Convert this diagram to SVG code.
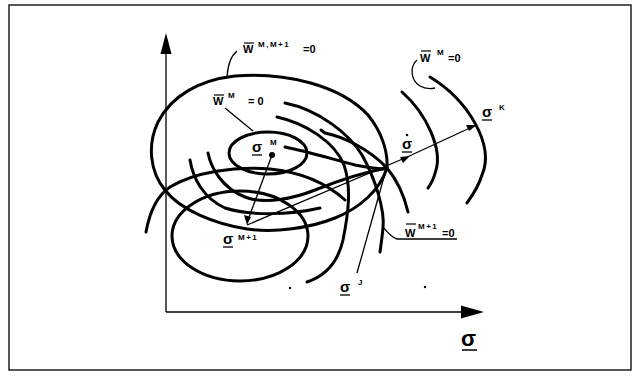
<svg xmlns="http://www.w3.org/2000/svg" width="640" height="376" viewBox="0 0 640 376">
<style>
.thick{fill:none;stroke:#000;stroke-width:3;stroke-linecap:round}
.thin{fill:none;stroke:#000;stroke-width:1.3}
.lbl{font-family:"Liberation Sans",Arial,sans-serif;font-weight:bold;fill:#000}
.sup{font-size:8px;letter-spacing:1.5px}
.big{font-size:11px}
</style>
<rect width="640" height="376" fill="#fff"/>
<rect x="9" y="5" width="622" height="365" fill="none" stroke="#222" stroke-width="1.5"/>
<g id="axes">
<line class="thin" x1="166" y1="53" x2="166" y2="312"/>
<polygon points="166,33 160.5,54 171.5,54" fill="#000"/>
<line class="thin" x1="166" y1="312" x2="462" y2="312"/>
<polygon points="484,312 461,305.5 461,318.5" fill="#000"/>
</g>
<g id="egg">
<path class="thick" d="M247,229 C215,224 180,210 165,190 C150,172 147,145 158,122 C172,95 200,80 235,76 C285,72 340,85 368,115 C382,132 388,152 387,168 C380,190 360,208 335,218 C310,228 275,233 247,229 Z"/>
</g>
<g id="small-ellipse"><ellipse class="thick" cx="268" cy="153" rx="39" ry="21"/></g>
<g id="bottom-ellipse"><ellipse class="thick" cx="240" cy="236" rx="68" ry="45"/></g>
<g id="arcs">
<path class="thick" d="M285,103 C320,110 350,135 362,155 C375,178 385,210 383,228 C382,238 381,245 380,252"/>
<path class="thick" d="M277,117 C305,123 335,142 344,165 C352,188 348,215 343,240 C338,262 325,276 307,282"/>
<path class="thick" d="M321,130 L325,133 C345,137 370,150 387,168 C397,180 404,195 408,212"/>
<path class="thick" d="M285,147 C310,152 335,160 355,165 C370,168 380,169 387,169"/>
<path class="thick" d="M146,232 C150,210 158,195 170,187 C195,172 235,166 270,169 C300,172 325,182 345,200"/>
<path class="thick" d="M208,153 C211,168 222,188 245,197 C265,205 295,198 315,190 C340,180 365,172 387,168"/>
<path class="thick" d="M190,160 C193,178 203,198 225,208 C250,216 290,215 320,208"/>
<path class="thick" d="M430,77 C468,100 495,145 482,175 C478,188 472,196 467,203"/>
<path class="thick" d="M402,92 C428,115 442,150 436,170 C434,178 431,184 428,188"/>
</g>
<g id="connectors">
<line class="thin" x1="272" y1="155" x2="248" y2="220"/>
<polygon points="247,225 244,215 251,217" fill="#000"/>
<line class="thin" x1="247" y1="225" x2="405" y2="158"/>
<polygon points="410,156 400,157 403,163" fill="#000"/>
<line class="thin" x1="405" y1="158" x2="472" y2="127"/>
<polygon points="477,125 466,125 469,131" fill="#000"/>
<circle cx="272" cy="155" r="3" fill="#000"/>
<path class="thin" d="M227,77 C228,62 232,55 237,51"/>
<line class="thin" x1="225" y1="108" x2="253" y2="131"/>
<path class="thin" d="M417,60 C410,66 410,80 420,86 C425,89 430,89 435,88"/>
<path class="thin" d="M383,227 C388,233 392,238 397,239 L457,239"/>
<line class="thin" x1="386" y1="170" x2="357" y2="273"/>
<circle cx="290" cy="288" r="1.2" fill="#000"/>
<circle cx="425" cy="287" r="1.2" fill="#000"/>
</g>
<g id="labels">
<text class="lbl big" x="243" y="53">W</text><line x1="244" y1="43" x2="254" y2="43" stroke="#000" stroke-width="1.2"/>
<text class="lbl sup" x="258" y="47">M,M+1</text>
<text class="lbl big" x="303" y="53">=0</text>
<text class="lbl big" x="213" y="105">W</text><line x1="214" y1="95" x2="224" y2="95" stroke="#000" stroke-width="1.2"/>
<text class="lbl sup" x="228" y="98">M</text>
<text class="lbl big" x="248" y="105">= 0</text>
<text class="lbl big" x="420" y="62">W</text><line x1="421" y1="51" x2="431" y2="51" stroke="#000" stroke-width="1.2"/>
<text class="lbl sup" x="437" y="55">M</text>
<text class="lbl big" x="448" y="62">=0</text>
<text class="lbl big" x="405" y="237">W</text><line x1="406" y1="224" x2="416" y2="224" stroke="#000" stroke-width="1.2"/>
<text class="lbl sup" x="418" y="229">M+1</text>
<text class="lbl big" x="442" y="237">=0</text>
<text class="lbl" font-size="15" x="252" y="152">σ</text><line x1="252" y1="155" x2="262" y2="155" stroke="#000" stroke-width="1.3"/>
<text class="lbl sup" x="270" y="145">M</text>
<text class="lbl" font-size="15" x="223" y="244">σ</text><line x1="223" y1="247" x2="233" y2="247" stroke="#000" stroke-width="1.3"/>
<text class="lbl sup" x="238" y="240">M+1</text>
<text class="lbl" font-size="15" x="340" y="292">σ</text><line x1="340" y1="295" x2="350" y2="295" stroke="#000" stroke-width="1.3"/>
<text class="lbl sup" x="358" y="285">J</text>
<text class="lbl" font-size="15" x="482" y="117">σ</text><line x1="482" y1="120" x2="492" y2="120" stroke="#000" stroke-width="1.3"/>
<text class="lbl sup" x="499" y="110">K</text>
<text class="lbl" font-size="15" x="402" y="149">σ</text><line x1="402" y1="152" x2="412" y2="152" stroke="#000" stroke-width="1.3"/>
<circle cx="407" cy="135" r="1.3" fill="#000"/>
<text class="lbl" font-size="22" x="461" y="346">σ</text><line x1="462" y1="350" x2="477" y2="350" stroke="#000" stroke-width="1.5"/>
</g>
</svg>
